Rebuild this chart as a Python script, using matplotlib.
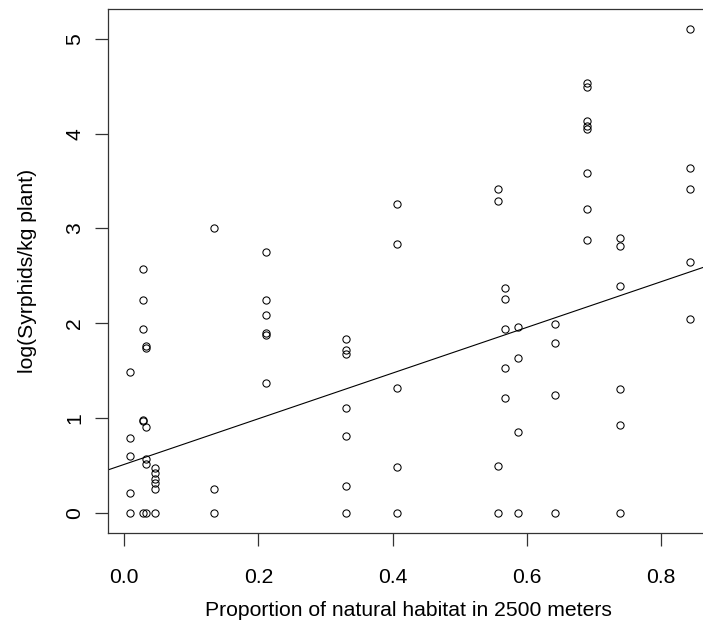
import numpy as np
import matplotlib
matplotlib.use("Agg")
import matplotlib.pyplot as plt

plt.rcParams['font.family'] = ['Liberation Sans', 'DejaVu Sans']

# proportion of natural habitat, one group per site
habitat = [0.0085, 0.028, 0.033, 0.046, 0.134, 0.211, 0.330, 0.406,
           0.557, 0.567, 0.587, 0.642, 0.689, 0.739, 0.843]

# log(Syrphids/kg plant) for each site
syrphids = [
    [1.48, 0.79, 0.60, 0.21, 0.0],
    [2.57, 2.25, 1.94, 0.98, 0.97, 0.0],
    [1.76, 1.74, 0.90, 0.57, 0.51, 0.0],
    [0.47, 0.42, 0.36, 0.31, 0.25, 0.0],
    [3.00, 0.25, 0.0],
    [2.75, 2.25, 2.09, 1.90, 1.88, 1.37],
    [1.83, 1.72, 1.67, 1.10, 0.81, 0.28, 0.0],
    [3.26, 2.84, 1.32, 0.48, 0.0],
    [3.42, 3.29, 0.49, 0.0],
    [2.37, 2.26, 1.94, 1.53, 1.21],
    [1.96, 1.63, 0.85, 0.0],
    [1.99, 1.79, 1.24, 0.0],
    [4.54, 4.49, 4.13, 4.08, 4.05, 3.59, 3.21, 2.88],
    [2.90, 2.82, 2.39, 1.31, 0.93, 0.0],
    [5.11, 3.64, 3.42, 2.65, 2.04],
]

# fitted line
fit_intercept = 0.51
fit_slope = 2.41

xticks = [0.0, 0.2, 0.4, 0.6, 0.8]
yticks = [0, 1, 2, 3, 4, 5]

x = np.concatenate([[h] * len(v) for h, v in zip(habitat, syrphids)])
y = np.concatenate(syrphids)

fs = 15.2

fig = plt.figure(figsize=(7.03, 6.32), dpi=100)
ax = fig.add_axes([107.7 / 703, (632 - 533.3) / 632,
                   (710 - 107.7) / 703, (533.3 - 9) / 632])

ax.plot(x, y, linestyle='none', marker='o', markersize=5.2,
        markerfacecolor='none', markeredgecolor='black', markeredgewidth=0.75)
ax.axline((0, fit_intercept), slope=fit_slope, color='black', linewidth=0.8)

ax.set_xlim(-0.0247, 0.873)
ax.set_ylim(-0.2175, 5.317)

ax.spines['right'].set_visible(False)
for s in ['left', 'top', 'bottom']:
    ax.spines[s].set_linewidth(0.9)
    ax.spines[s].set_color('#333333')

ax.set_xticks(xticks)
ax.set_xticklabels([f'{t:.1f}' for t in xticks])
ax.set_yticks(yticks)
ax.set_yticklabels([str(t) for t in yticks], rotation=90, va='center')
ax.tick_params(axis='both', direction='out', length=9.4, width=0.9,
               color='#333333', labelsize=fs)
ax.tick_params(axis='x', pad=15.5)
ax.tick_params(axis='y', pad=7.5)

ax.set_xlabel('Proportion of natural habitat in 2500 meters', fontsize=fs)
ax.set_ylabel('log(Syrphids/kg plant)', fontsize=fs)
ax.xaxis.set_label_coords(0.5, -0.130)
ax.yaxis.set_label_coords(-0.118, 0.5)

fig.savefig('out.png', dpi=100)
